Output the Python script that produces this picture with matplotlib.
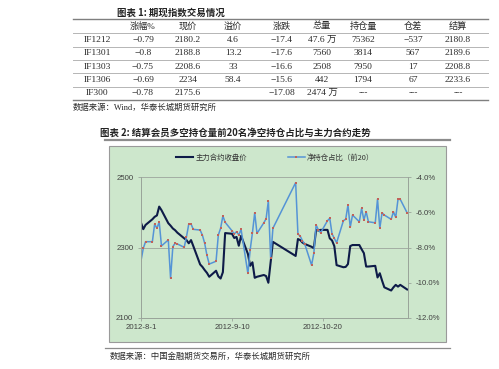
import matplotlib
matplotlib.use('Agg')
import matplotlib.pyplot as plt
import matplotlib.dates as mdates
from matplotlib.lines import Line2D
from matplotlib.patches import Rectangle
from matplotlib.ticker import FuncFormatter, FixedLocator
import datetime as dt

# ---------------- data ----------------
table_title = '图表 1: 期现指数交易情况'
table_source = '数据来源：Wind，华泰长城期货研究所'
headers = ['', '涨幅%', '现价', '溢价', '涨跌', '总量', '持仓量', '仓差', '结算']
contracts = ['IF1212', 'IF1301', 'IF1303', 'IF1306', 'IF300']
pct_change = ['−0.79', '−0.8', '−0.75', '−0.69', '−0.78']
price = ['2180.2', '2188.8', '2208.6', '2234', '2175.6']
premium = ['4.6', '13.2', '33', '58.4', '']
change = ['−17.4', '−17.6', '−16.6', '−15.6', '−17.08']
volume = ['47.6 万', '7560', '2508', '442', '2474 万']
open_interest = ['75362', '3814', '7950', '1794', '---']
oi_diff = ['−537', '567', '17', '67', '---']
settle = ['2180.8', '2189.6', '2208.8', '2233.6', '---']

chart_title = '图表 2: 结算会员多空持仓量前20名净空持仓占比与主力合约走势'
chart_source = '数据来源：中国金融期货交易所，华泰长城期货研究所'
series_names = ['主力合约收盘价', '净持仓占比（前20）']

dates = ['2012-08-01', '2012-08-02', '2012-08-03', '2012-08-06', '2012-08-07', '2012-08-08',
         '2012-08-09', '2012-08-10', '2012-08-13', '2012-08-14', '2012-08-15', '2012-08-16',
         '2012-08-17', '2012-08-20', '2012-08-21', '2012-08-22', '2012-08-23', '2012-08-24',
         '2012-08-27', '2012-08-28', '2012-08-29', '2012-08-30', '2012-08-31',
         '2012-09-03', '2012-09-04', '2012-09-05', '2012-09-06', '2012-09-07',
         '2012-09-10', '2012-09-11', '2012-09-12', '2012-09-13', '2012-09-14',
         '2012-09-17', '2012-09-18', '2012-09-19', '2012-09-20', '2012-09-21',
         '2012-09-24', '2012-09-25', '2012-09-26', '2012-09-27', '2012-09-28',
         '2012-10-08', '2012-10-09', '2012-10-10', '2012-10-11', '2012-10-12',
         '2012-10-15', '2012-10-16', '2012-10-17', '2012-10-18', '2012-10-19',
         '2012-10-22', '2012-10-23', '2012-10-24', '2012-10-25', '2012-10-26',
         '2012-10-29', '2012-10-30', '2012-10-31', '2012-11-01', '2012-11-02',
         '2012-11-05', '2012-11-06', '2012-11-07', '2012-11-08', '2012-11-09',
         '2012-11-12', '2012-11-13', '2012-11-14', '2012-11-15', '2012-11-16',
         '2012-11-19', '2012-11-20', '2012-11-21', '2012-11-22', '2012-11-23',
         '2012-11-26']

close_price = [2370, 2352, 2364, 2380, 2387, 2391, 2416, 2406, 2369, 2362, 2354, 2349,
               2342, 2326, 2321, 2312, 2321, 2304,
               2252, 2245, 2236, 2228, 2217,
               2234, 2218, 2212, 2230, 2341,
               2339, 2327, 2330, 2305, 2333,
               2282, 2248, 2258, 2214, 2217,
               2222, 2219, 2200, 2258, 2316,
               2276, 2324, 2321, 2314, 2310,
               2302, 2298, 2350, 2348, 2350,
               2350, 2326, 2320, 2304, 2250,
               2244, 2245, 2253, 2304, 2307,
               2307, 2295, 2284, 2246, 2246,
               2248, 2215, 2227, 2206, 2187,
               2178, 2187, 2194, 2189, 2194,
               2181]

net_ratio = [-8.75, -8.05, -7.67, -7.67, -6.67, -6.91, -6.54, -7.91, -7.57, -9.75, -7.95, -7.76,
             -7.80, -7.99, -7.39, -6.67, -6.67, -6.97,
             -7.01, -7.30, -7.76, -8.45, -8.94,
             -8.78, -7.29, -6.91, -6.21, -6.57,
             -7.05, -7.23, -7.10, -7.29, -6.97,
             -9.47, -8.14, -7.16, -6.03, -7.20,
             -6.60, -6.37, -5.35, -8.61, -6.91,
             -4.32, -7.24, -7.35, -7.62, -7.80,
             -9.00, -8.33, -6.72, -7.00, -7.16,
             -6.48, -6.34, -7.23, -7.48, -7.73,
             -6.48, -6.40, -5.59, -6.85, -6.16,
             -6.54, -5.78, -6.44, -5.97, -6.54,
             -6.60, -5.25, -6.91, -6.03, -6.16,
             -6.40, -5.97, -6.29, -5.27, -5.27,
             -6.03]

x_tick_dates = ['2012-08-01', '2012-09-10', '2012-10-20']
x_tick_labels = ['2012-8-1', '2012-9-10', '2012-10-20']
left_ticks = [2100, 2300, 2500]
right_ticks = [-12, -10, -8, -6, -4]

# ---------------- layout helpers ----------------
W, H = 499, 369
def fx(x):
    return x / W
def fy(y):
    return 1 - y / H

SERIF_CJK = ['Liberation Serif', 'Noto Sans CJK SC']
CJK = ['Noto Sans CJK SC', 'DejaVu Sans']
TXT = '#2a2a2a'

fig = plt.figure(figsize=(W / 100, H / 100), dpi=100)
fig.patch.set_facecolor('white')

# ---------------- table ----------------
fig.text(fx(117), fy(13), table_title, family=CJK, fontsize=6.8, weight='bold',
         ha='left', va='center', color='#222222')
col_x = [97, 143, 188, 233, 282, 322, 363, 413, 458]
header_y = 26
row_y = [40, 53.3, 66.6, 80, 93.3]
line_y = [19, 33, 46.7, 60, 73.3, 86.7, 100]
for i, yy in enumerate(line_y):
    outer = i in (0, len(line_y) - 1)
    fig.add_artist(Line2D([fx(73), fx(488)], [fy(yy), fy(yy)], transform=fig.transFigure,
                          color='#7f7f7f' if outer else '#b5b5b5', lw=1.0 if outer else 0.7))
for cx, h in zip(col_x, headers):
    fig.text(fx(cx), fy(header_y), h, family=SERIF_CJK, fontsize=6.6, ha='center',
             va='center', color=TXT)
columns = [contracts, pct_change, price, premium, change, volume, open_interest, oi_diff, settle]
for cx, col in zip(col_x, columns):
    for ry, val in zip(row_y, col):
        fig.text(fx(cx), fy(ry), val, family=SERIF_CJK, fontsize=6.8, ha='center',
                 va='center', color=TXT)
fig.text(fx(73), fy(108), table_source, family=SERIF_CJK, fontsize=6.0, ha='left',
         va='center', color=TXT)

# ---------------- chart ----------------
fig.text(fx(100), fy(133), chart_title, family=CJK, fontsize=6.8, weight='bold',
         ha='left', va='center', color='#222222')
fig.add_artist(Line2D([fx(105), fx(450)], [fy(139.5), fy(139.5)], transform=fig.transFigure,
                      color='#8c8c8c', lw=1.6))
panel = Rectangle((fx(109), fy(342)), (446 - 109) / W, (342 - 146) / H,
                  transform=fig.transFigure, facecolor='#cde7cc', edgecolor='#9a9a9a',
                  lw=0.8, zorder=-1)
fig.add_artist(panel)
fig.add_artist(Line2D([fx(105), fx(450)], [fy(348), fy(348)], transform=fig.transFigure,
                      color='#8c8c8c', lw=0.9))
fig.text(fx(110), fy(356.5), chart_source, family=SERIF_CJK, fontsize=6.0, ha='left',
         va='center', color=TXT)

ax = fig.add_axes([fx(141), fy(318), (408 - 141) / W, (318 - 177) / H])
ax.set_facecolor('none')
ax2 = ax.twinx()

d = [mdates.date2num(dt.datetime.strptime(s, '%Y-%m-%d')) for s in dates]
l1, = ax.plot(d, close_price, color='#0e1b48', lw=1.5, zorder=3)
l2, = ax2.plot(d, net_ratio, color='#5594d6', lw=1.1, marker='s', markersize=1.9,
               markerfacecolor='#c0625a', markeredgewidth=0, zorder=2)

x0 = mdates.date2num(dt.datetime(2012, 8, 1))
ax.set_xlim(x0, x0 + 117.4)
ax.set_ylim(2100, 2500)
ax2.set_ylim(-12, -4)

ax.yaxis.set_major_locator(FixedLocator(left_ticks))
ax2.yaxis.set_major_locator(FixedLocator(right_ticks))
ax2.yaxis.set_major_formatter(FuncFormatter(lambda v, p: f'{v:.1f}%'))
tick_d = [mdates.date2num(dt.datetime.strptime(s, '%Y-%m-%d')) for s in x_tick_dates]
ax.set_xticks(tick_d)
ax.set_xticklabels(x_tick_labels)

ax.grid(axis='y', color='#a3aea3', lw=0.7)
ax.set_axisbelow(True)
for a in (ax, ax2):
    for s in a.spines.values():
        s.set_color('#9aa59a')
        s.set_linewidth(0.7)
    a.spines['top'].set_visible(False)

for lab in ax.get_xticklabels() + ax.get_yticklabels() + ax2.get_yticklabels():
    lab.set_fontfamily('Liberation Sans')
    lab.set_fontsize(5.6)
    lab.set_color('#404040')
ax.tick_params(axis='y', length=2.5, width=0.6, color='#9aa59a', pad=3)
ax.tick_params(axis='x', length=2, width=0.6, color='#9aa59a', pad=2.5)
ax2.tick_params(axis='y', length=2.5, width=0.6, color='#9aa59a', pad=3)

leg = ax2.legend([l1, l2], series_names, ncol=2, loc='center left',
                 bbox_to_anchor=(fx(176), fy(158)), bbox_transform=fig.transFigure,
                 frameon=False, prop={'family': CJK, 'size': 5.3}, handlelength=2.3,
                 handletextpad=0.3, columnspacing=5.6, borderpad=0, borderaxespad=0)
for t in leg.get_texts():
    t.set_color('#333333')

fig.savefig('out.png', dpi=100, facecolor='white')
